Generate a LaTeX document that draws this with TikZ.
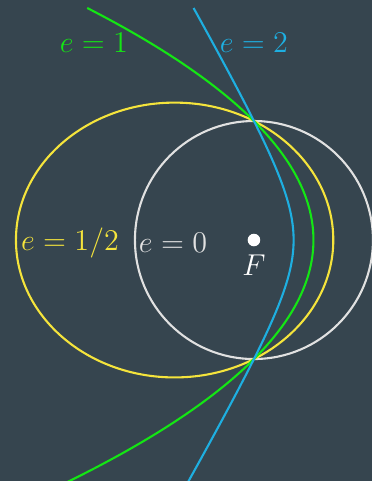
\documentclass[tikz,border=0pt]{standalone}
\usepackage{amssymb,amsmath}
\usetikzlibrary{calc,positioning}
\definecolor{bgslate}{RGB}{54,69,79}
\definecolor{conicgreen}{RGB}{20,230,20}
\definecolor{conicblue}{RGB}{30,175,225}
\definecolor{conicyellow}{RGB}{245,228,60}
\definecolor{conicwhite}{RGB}{225,225,225}

\begin{document}
\begin{tikzpicture}[x=2cm,y=2cm]
    \tikzstyle{conic} = [line width=1pt]
    \tikzstyle{conic label} = [font=\fontsize{14.5}{17}\selectfont, inner sep=1pt]

    % focus at the origin, semi-latus rectum = 1
    \def\yTop{1.95}
    \def\yBot{-2.08}

    \fill[bgslate] (-2.134,-2.025) rectangle (0.992,2.017);
    \useasboundingbox (-2.134,-2.025) rectangle (0.992,2.017);
    \clip (-2.134,-2.025) rectangle (0.992,2.017);

    \draw[conic, conicwhite] (0,0) circle [radius=1];
    \draw[conic, conicyellow] (-2/3,0) ellipse [x radius=4/3, y radius=1.1547];
    \draw[conic, conicgreen] plot[domain=\yBot:\yTop, variable=\t, samples=80, smooth]
        ({(1-\t*\t)/2}, \t);
    \draw[conic, conicblue] plot[domain=\yBot:\yTop, variable=\t, samples=80, smooth]
        ({(4-sqrt(4+12*\t*\t))/6}, \t);

    \node (F) [circle, fill=white, inner sep=0pt, minimum size=6pt] at (0,0) {};
    \node (Flabel) [conic label, text=white, below=2.5pt of F] {$F$};

    \node (e0) [conic label, text=conicwhite] at (-0.68,-0.025) {$e=0$};
    \node (ehalf) [conic label, text=conicyellow] at (-1.546,-0.025) {$e=1/2$};
    \node (eone) [conic label, text=conicgreen] at (-1.345,1.655) {$e=1$};
    \node (etwo) [conic label, text=conicblue] at (0,1.655) {$e=2$};
\end{tikzpicture}
\end{document}
